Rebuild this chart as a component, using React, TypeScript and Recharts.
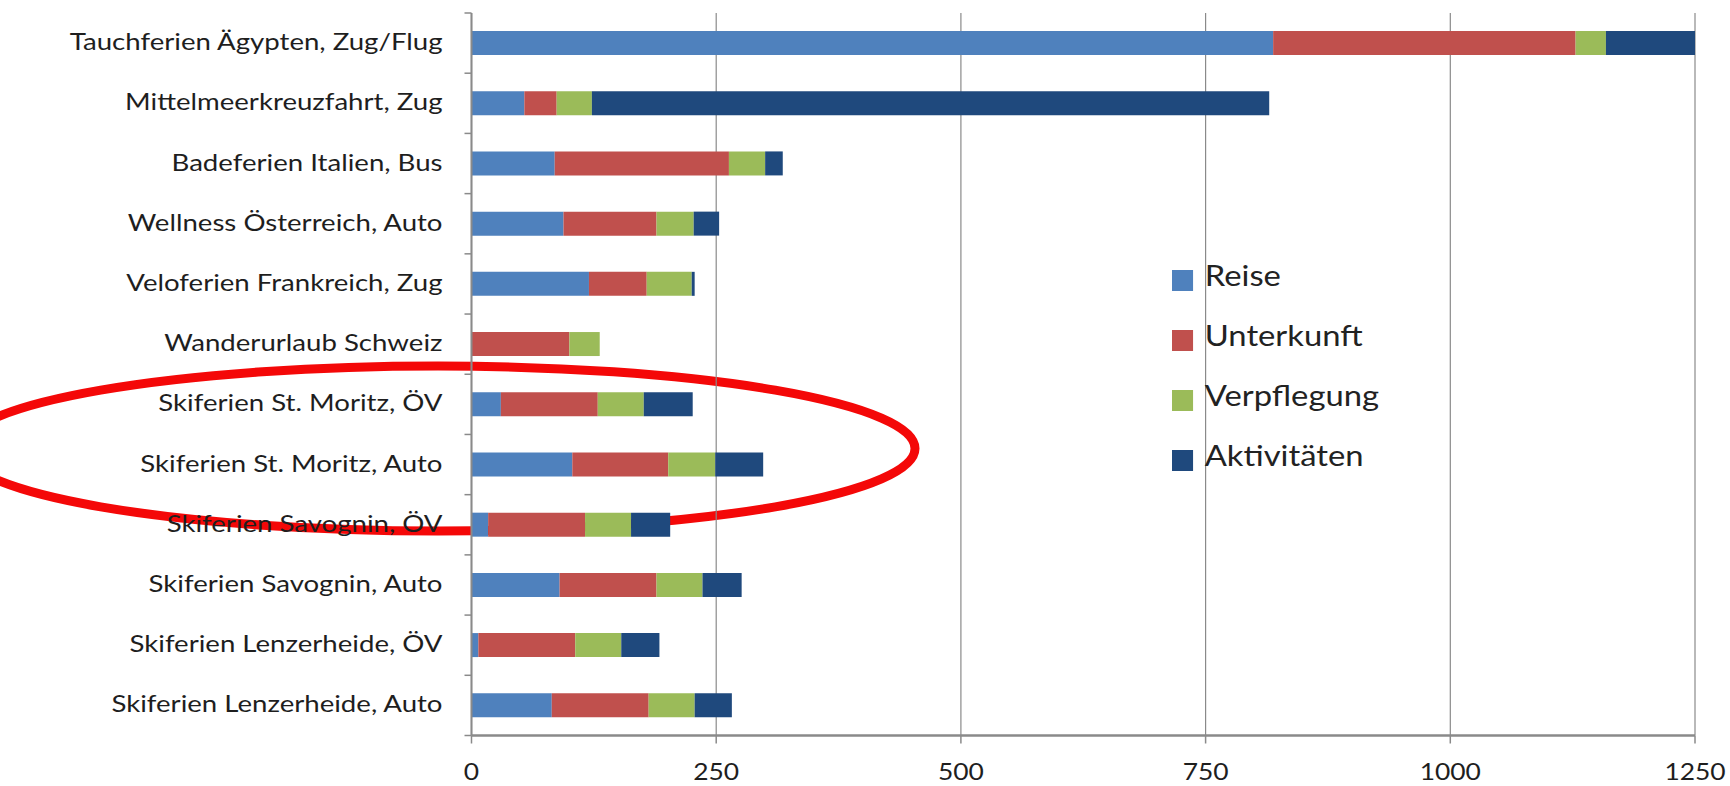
import { BarChart, Bar, XAxis, YAxis, CartesianGrid } from 'recharts';

const categories = [
  'Tauchferien Ägypten, Zug/Flug',
  'Mittelmeerkreuzfahrt, Zug',
  'Badeferien Italien, Bus',
  'Wellness Österreich, Auto',
  'Veloferien Frankreich, Zug',
  'Wanderurlaub Schweiz',
  'Skiferien St. Moritz, ÖV',
  'Skiferien St. Moritz, Auto',
  'Skiferien Savognin, ÖV',
  'Skiferien Savognin, Auto',
  'Skiferien Lenzerheide, ÖV',
  'Skiferien Lenzerheide, Auto',
];

const reise = [819, 54, 85, 94, 120, 0, 30, 103, 17, 90, 7, 82];
const unterkunft = [309, 33, 178, 95, 59, 100, 99, 98, 99, 99, 99, 99];
const verpflegung = [31, 36, 37, 38, 46, 31, 47, 48, 47, 47, 47, 47];
const aktivitaeten = [91, 692, 18, 26, 3, 0, 50, 49, 40, 40, 39, 38];

const xTicks = [0, 250, 500, 750, 1000, 1250];

const series = [
  { key: 'reise', name: 'Reise', color: '#4F81BD' },
  { key: 'unterkunft', name: 'Unterkunft', color: '#C0504D' },
  { key: 'verpflegung', name: 'Verpflegung', color: '#9BBB59' },
  { key: 'aktivitaeten', name: 'Aktivitäten', color: '#1F497D' },
];

const data = categories.map((name, i) => ({
  name,
  reise: reise[i],
  unterkunft: unterkunft[i],
  verpflegung: verpflegung[i],
  aktivitaeten: aktivitaeten[i],
}));

const FONT = 'Lato, "Open Sans", sans-serif';
const AXIS_GRAY = '#8a8a8a';
const TEXT = '#1e1e1e';
const TICK_LEN = 7;
const TICK_GAP = 22;

// category labels + the small ticks between categories (Excel style)
const CategoryTick = ({ x, y, payload, index }: any) => {
  const half = payload?.offset || 30.1;
  const axisX = x + TICK_LEN + TICK_GAP;
  const last = index === categories.length - 1;
  return (
    <g>
      <line x1={axisX - TICK_LEN} x2={axisX} y1={y - half} y2={y - half} stroke={AXIS_GRAY} strokeWidth={1.5} />
      {last && (
        <line x1={axisX - TICK_LEN} x2={axisX} y1={y + half} y2={y + half} stroke={AXIS_GRAY} strokeWidth={1.5} />
      )}
      <text
        transform={`translate(${x},${y + 7}) scale(1.15,1)`}
        textAnchor="end"
        fill={TEXT}
        fontSize={24}
        fontFamily={FONT}
      >
        {payload.value}
      </text>
    </g>
  );
};

const ValueTick = ({ x, y, payload }: any) => (
  <text
    transform={`translate(${x},${y + 16}) scale(1.1,1)`}
    textAnchor="middle"
    fill={TEXT}
    fontSize={24}
    fontFamily={FONT}
  >
    {payload.value}
  </text>
);

const LegendBox = () => (
  <div
    style={{
      position: 'absolute',
      left: 1172,
      top: 245,
      fontFamily: FONT,
      transform: 'scaleX(1.17)',
      transformOrigin: 'left top',
    }}
  >
    {series.map((s) => (
      <div key={s.key} style={{ display: 'flex', alignItems: 'center', height: 60 }}>
        <span style={{ width: 18, height: 21, background: s.color, marginRight: 10, marginTop: 10, flex: 'none' }} />
        <span style={{ fontSize: 28, color: '#222', lineHeight: '30px' }}>{s.name}</span>
      </div>
    ))}
  </div>
);

export default function App() {
  return (
    <div style={{ position: 'absolute', left: 0, top: 0, width: 1730, height: 786, background: '#fff' }}>
      {/* red highlight ring sits behind the bars and labels */}
      <svg width={1730} height={786} style={{ position: 'absolute', left: 0, top: 0 }}>
        <ellipse cx={438} cy={448.5} rx={477} ry={82.5} fill="none" stroke="#f40808" strokeWidth={9} />
      </svg>
      <div style={{ position: 'absolute', left: 0, top: 0 }}>
        <BarChart
          width={1730}
          height={786}
          data={data}
          layout="vertical"
          margin={{ top: 13, right: 35, bottom: 0, left: 0 }}
          barSize={24}
        >
          <CartesianGrid horizontal={false} stroke={AXIS_GRAY} strokeWidth={1.2} />
          <XAxis
            type="number"
            domain={[0, 1250]}
            ticks={xTicks}
            height={50.5}
            axisLine={{ stroke: AXIS_GRAY, strokeWidth: 2.5 }}
            tickLine={{ stroke: AXIS_GRAY, strokeWidth: 1.5 }}
            tickSize={8}
            tickMargin={20}
            tick={<ValueTick />}
          />
          <YAxis
            type="category"
            dataKey="name"
            width={471.5}
            axisLine={{ stroke: AXIS_GRAY, strokeWidth: 2 }}
            tickLine={false}
            tickSize={TICK_LEN}
            tickMargin={TICK_GAP}
            tick={<CategoryTick />}
            interval={0}
          />
          {series.map((s) => (
            <Bar key={s.key} dataKey={s.key} name={s.name} stackId="a" fill={s.color} isAnimationActive={false} />
          ))}
        </BarChart>
      </div>
      <LegendBox />
    </div>
  );
}
